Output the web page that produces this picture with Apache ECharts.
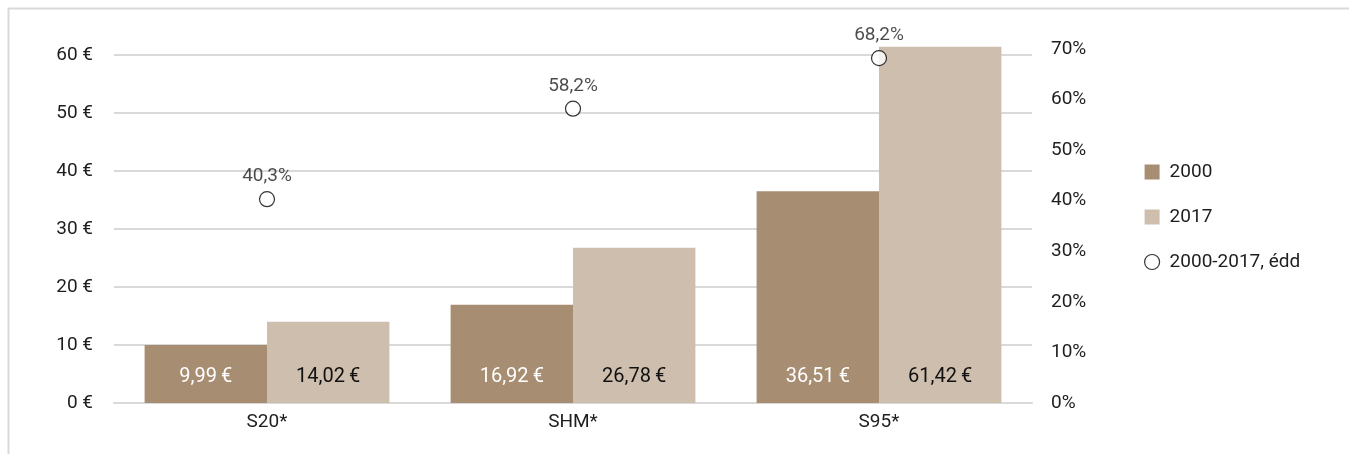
<!DOCTYPE html>
<html><head><meta charset="utf-8">
<script src="https://cdn.jsdelivr.net/npm/echarts@6/dist/echarts.min.js"></script>
<style>html,body{margin:0;padding:0;background:#fff}#c{width:1349px;height:454px}</style>
</head><body><div id="c"></div>
<script>
const categories = ['S20*', 'SHM*', 'S95*'];
const values2000 = [9.99, 16.92, 36.51];
const values2017 = [14.02, 26.78, 61.42];
const changePct = [40.3, 58.2, 68.2];
const seriesNames = ['2000', '2017', '2000-2017, édd'];

const fmtEur = v => v.toFixed(2).replace('.', ',') + '\u2009€';
const fmtPct = v => v.toFixed(1).replace('.', ',') + '%';
const font = 'Roboto, "DejaVu Sans", sans-serif';
const txt = '#1e1e1e';

const chart = echarts.init(document.getElementById('c'), null, {renderer: 'canvas'});
chart.setOption({
  animation: false,
  backgroundColor: '#fff',
  textStyle: {fontFamily: font},
  graphic: [{
    type: 'rect', left: 6, top: 6, z: -1,
    shape: {width: 1400, height: 500},
    style: {fill: 'none', stroke: '#d9d9d9', lineWidth: 2}
  }],
  grid: [
    {left: 114, right: 317, top: 55, bottom: 51},
    {left: 114, right: 317, top: 49, bottom: 51}
  ],
  legend: {
    orient: 'vertical', left: 1139, top: 157, itemGap: 25,
    itemWidth: 15, itemHeight: 15,
    textStyle: {fontSize: 19, lineHeight: 20, color: txt, fontFamily: font, padding: [0, 0, 0, 5]},
    data: [
      {name: seriesNames[0], icon: 'rect'},
      {name: seriesNames[1], icon: 'rect'},
      {name: seriesNames[2], icon: 'circle', itemStyle: {color: '#fff', borderColor: '#000', borderWidth: 1.2}}
    ]
  },
  xAxis: [{
    type: 'category', data: categories, gridIndex: 0,
    axisLine: {lineStyle: {color: '#d9d9d9', width: 2}},
    axisTick: {show: false},
    axisLabel: {fontSize: 19, color: txt, margin: 10}
  }, {
    type: 'category', data: categories, gridIndex: 1, show: false
  }],
  yAxis: [{
    type: 'value', min: 0, max: 60, interval: 10, gridIndex: 0,
    axisLabel: {fontSize: 19, color: txt, margin: 21, formatter: v => v + ' €'},
    splitLine: {lineStyle: {color: '#d9d9d9', width: 2}},
    axisLine: {show: false}, axisTick: {show: false}
  }, {
    type: 'value', min: 0, max: 70, interval: 10, gridIndex: 1, position: 'right',
    axisLabel: {fontSize: 19, color: txt, margin: 19, formatter: v => v + '%'},
    splitLine: {show: false},
    axisLine: {show: false}, axisTick: {show: false}
  }],
  series: [{
    name: seriesNames[0], type: 'bar', data: values2000,
    barGap: '0%', barCategoryGap: '20%', clip: false,
    itemStyle: {color: '#a78d71'},
    label: {show: true, position: 'insideBottom', distance: 16, fontSize: 20, color: '#fff', formatter: p => fmtEur(p.value)}
  }, {
    name: seriesNames[1], type: 'bar', data: values2017,
    barGap: '0%', barCategoryGap: '20%', clip: false,
    itemStyle: {color: '#cebead'},
    label: {show: true, position: 'insideBottom', distance: 16, fontSize: 20, color: '#111', formatter: p => fmtEur(p.value)}
  }, {
    name: seriesNames[2], type: 'scatter', xAxisIndex: 1, yAxisIndex: 1, data: changePct,
    symbol: 'circle', symbolSize: 15, z: 5,
    itemStyle: {color: '#fff', borderColor: '#000', borderWidth: 1.2},
    label: {show: true, position: 'top', distance: 5, fontSize: 19, color: txt, formatter: p => fmtPct(p.value)}
  }]
});
</script></body></html>
